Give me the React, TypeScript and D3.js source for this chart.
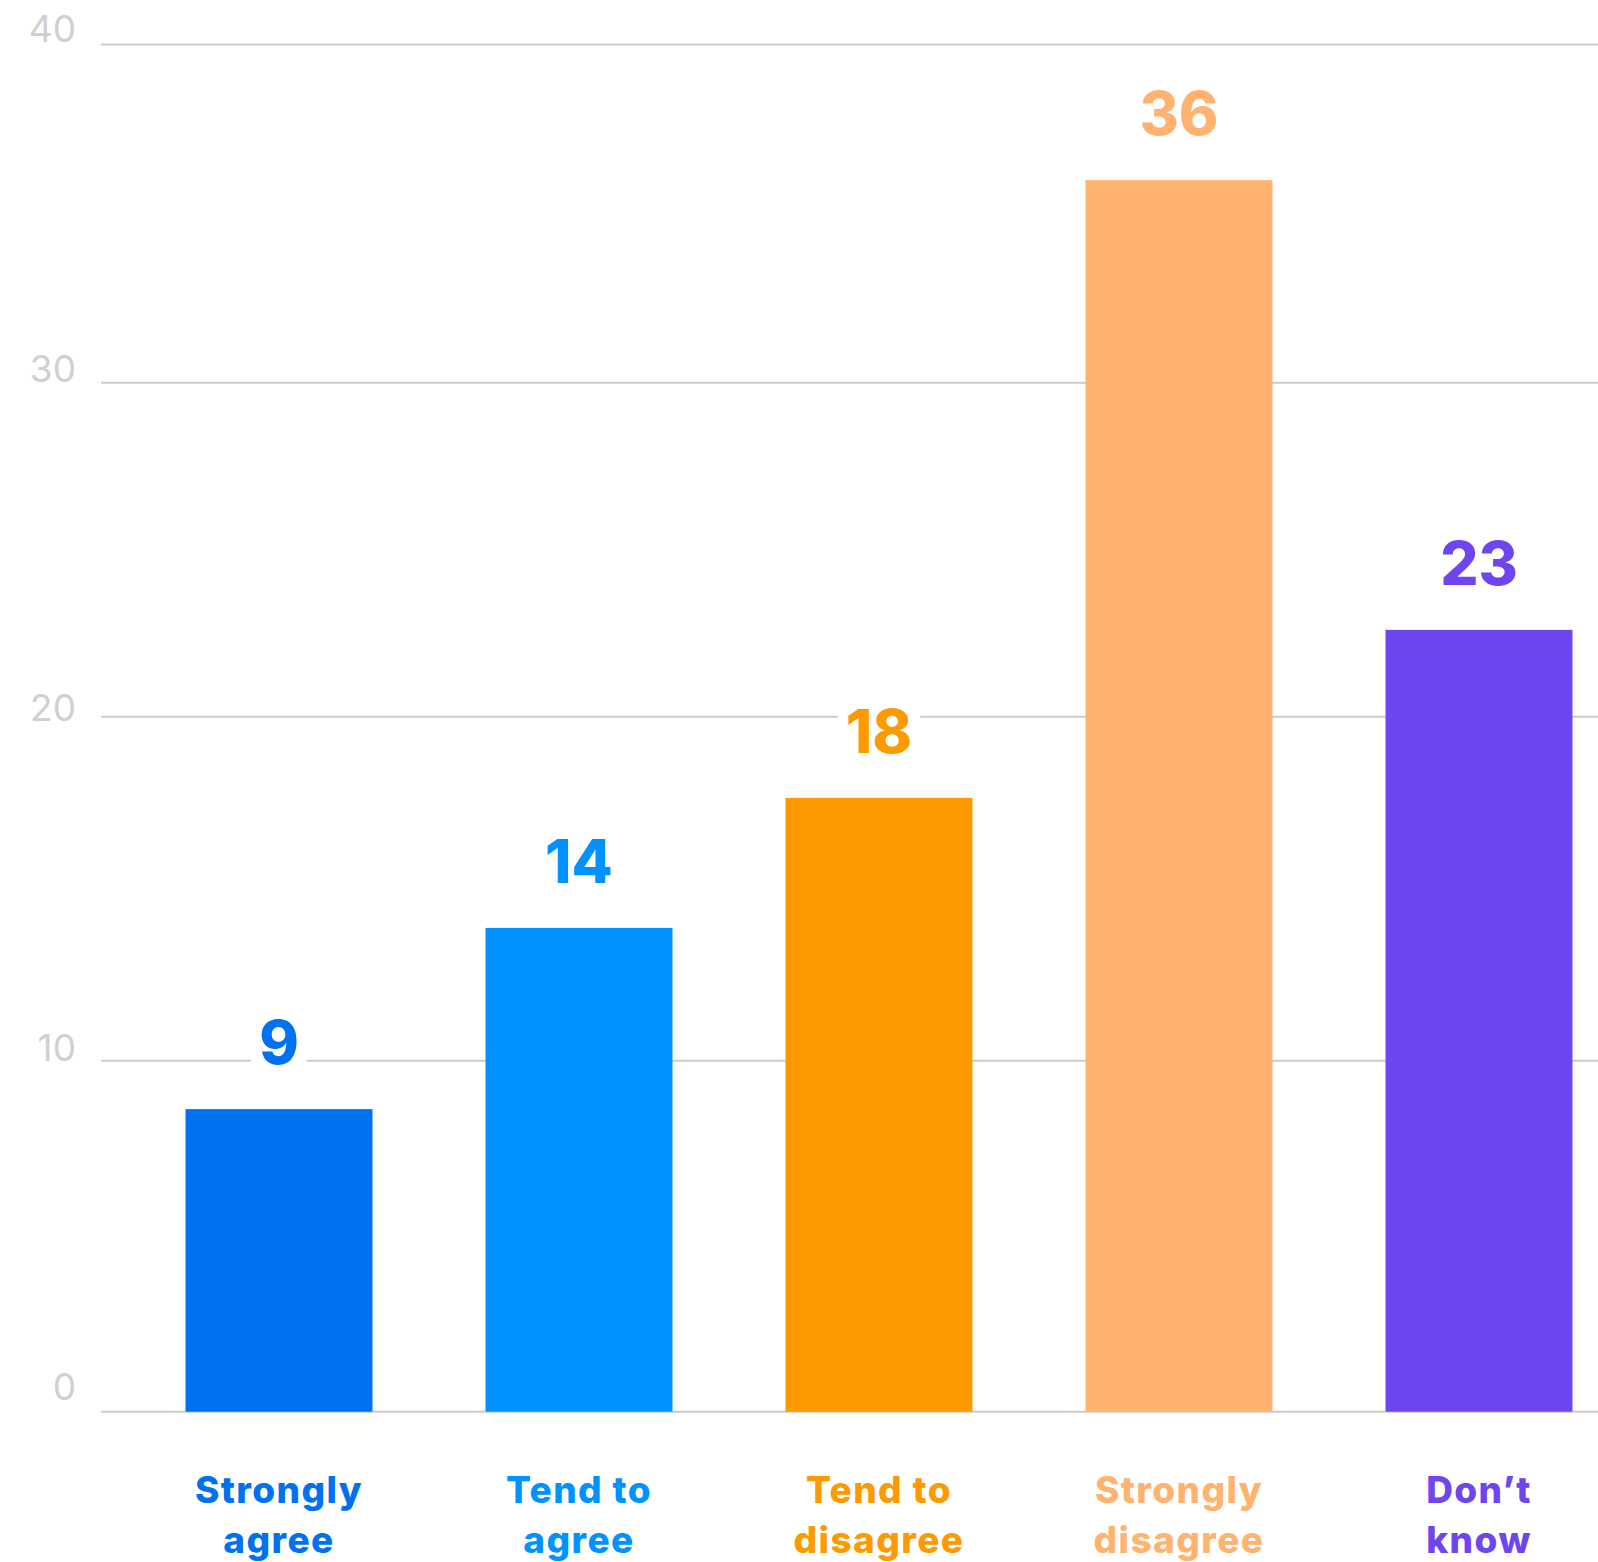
import React, { useEffect, useRef } from "react";
import * as d3 from "d3";

const categories = ["Strongly agree", "Tend to agree", "Tend to disagree", "Strongly disagree", "Don’t know"];
const categoryLines = [["Strongly", "agree"], ["Tend to", "agree"], ["Tend to", "disagree"], ["Strongly", "disagree"], ["Don’t", "know"]];
const values = [8.62, 13.86, 17.64, 35.99, 22.6];
const colors = ["#0071f1", "#0093ff", "#fc9a00", "#ffb36e", "#6e45ef"];
const tickValues = [0, 10, 20, 30, 40];

const W = 1598;
const H = 1562;

export default function App() {
  const ref = useRef<SVGSVGElement>(null);

  useEffect(() => {
    const svg = d3.select(ref.current);
    svg.selectAll("*").remove();

    const y = d3.scaleLinear().domain(tickValues).range([1411.7, 1060.7, 716.7, 382.7, 44.5]);
    const yLabel = d3.scaleLinear().domain([0, 40]).range([1400, 42]);
    const x = d3
      .scaleBand<string>()
      .domain(categories)
      .range([160, W])
      .paddingInner(0.3767)
      .paddingOuter(0.085);

    const font = "Inter, 'Open Sans', sans-serif";

    // gridlines
    svg
      .append("g")
      .selectAll("line")
      .data(tickValues)
      .join("line")
      .attr("x1", 101)
      .attr("x2", W)
      .attr("y1", (d) => y(d))
      .attr("y2", (d) => y(d))
      .attr("stroke", "#cbcbcb")
      .attr("stroke-width", 2);

    // tick labels
    svg
      .append("g")
      .selectAll("text")
      .data(tickValues)
      .join("text")
      .attr("x", 76)
      .attr("y", (d) => yLabel(d))
      .attr("text-anchor", "end")
      .attr("font-family", font)
      .attr("font-size", 37)
      .attr("font-weight", 400)
      .attr("fill", "#d0d0d0")
      .text((d) => String(d));

    // bars
    svg
      .append("g")
      .selectAll("rect")
      .data(values)
      .join("rect")
      .attr("x", (_, i) => x(categories[i])!)
      .attr("width", x.bandwidth())
      .attr("y", (d) => y(d))
      .attr("height", (d) => y(0) - y(d))
      .attr("fill", (_, i) => colors[i]);

    // value labels
    const lg = svg.append("g");
    values.forEach((v, i) => {
      const cx = x(categories[i])! + x.bandwidth() / 2;
      const g = lg.append("g");
      const bg = g.append("rect").attr("fill", "#ffffff");
      const t = g
        .append("text")
        .attr("x", cx)
        .attr("y", y(v) - 45)
        .attr("text-anchor", "middle")
        .attr("font-family", font)
        .attr("font-size", 60)
        .attr("font-weight", 800)
        .attr("fill", colors[i])
        .text(String(Math.round(v)));
      const bb = (t.node() as SVGTextElement).getBBox();
      bg.attr("x", bb.x - 8)
        .attr("y", bb.y)
        .attr("width", bb.width + 16)
        .attr("height", bb.height);
    });

    // category labels
    const cg = svg.append("g");
    categoryLines.forEach((lines, i) => {
      const cx = x(categories[i])! + x.bandwidth() / 2;
      const t = cg
        .append("text")
        .attr("text-anchor", "middle")
        .attr("font-family", font)
        .attr("font-size", 37)
        .attr("font-weight", 800)
        .attr("letter-spacing", 1.4)
        .attr("fill", colors[i]);
      lines.forEach((ln, j) => {
        t.append("tspan")
          .attr("x", cx)
          .attr("y", y(0) + 91 + j * 50)
          .text(ln);
      });
    });
  }, []);

  return (
    <svg
      ref={ref}
      width={W}
      height={H}
      style={{ position: "absolute", left: 0, top: 0, background: "#ffffff" }}
    />
  );
}
